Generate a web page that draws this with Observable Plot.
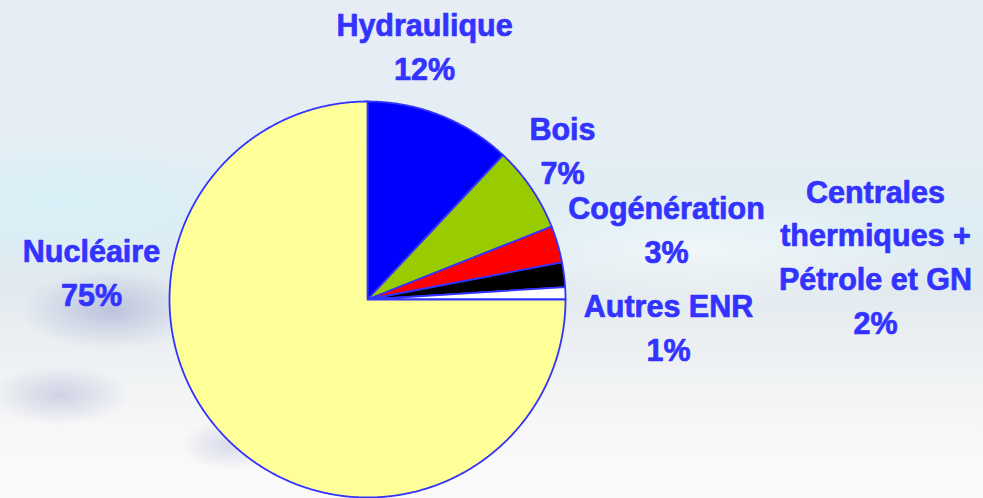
<!DOCTYPE html>
<html>
<head>
<meta charset="utf-8">
<script src="https://cdn.jsdelivr.net/npm/d3@7"></script>
<script src="https://cdn.jsdelivr.net/npm/@observablehq/plot@0.6"></script>
<style>
  html, body { margin: 0; padding: 0; width: 983px; height: 498px; overflow: hidden; }
  body {
    background:
      radial-gradient(ellipse 90px 40px at 110px 310px, rgba(100,110,180,0.32), rgba(100,110,180,0) 100%),
      radial-gradient(ellipse 70px 30px at 60px 395px, rgba(100,110,180,0.25), rgba(100,110,180,0) 100%),
      radial-gradient(ellipse 50px 25px at 230px 445px, rgba(100,110,180,0.22), rgba(100,110,180,0) 100%),
      radial-gradient(ellipse 200px 70px at 60px 200px, rgba(215,240,248,0.8), rgba(215,240,248,0) 100%),
      radial-gradient(ellipse 260px 60px at 700px 250px, rgba(255,255,255,0.55), rgba(255,255,255,0) 100%),
      linear-gradient(to bottom, #e7edf5 0%, #e5eef4 30%, #dcedf3 46%, #e2eaef 58%, #eef1f3 72%, #f8f8f8 88%, #fbfbfb 100%);
  }
  #chart svg { display: block; }
</style>
</head>
<body>
<div id="chart"></div>
<script>
// ---- data ----
const categories = ["Hydraulique", "Bois", "Cogénération", "Centrales thermiques + Pétrole et GN", "Autres ENR", "Nucléaire"];
const labelLines = ["Hydraulique", "Bois", "Cogénération", "Centrales\nthermiques +\nPétrole et GN", "Autres ENR", "Nucléaire"];
const shares = [12, 7, 3, 2, 1, 75];
const sliceColors = ["#0000ff", "#99cc00", "#ff0000", "#000000", "#ffffff", "#ffff99"];

// ---- layout ----
const W = 983, H = 498, CX = 367, CY = 299, R = 198;
// pixel anchor (center x, baseline of last line) for each label
const labelAnchors = [[424, 79], [562, 183], [666, 262], [875, 333], [668, 360], [91, 305]];

const arcs = d3.pie().sort(null).value(d => d)(shares);
const wedges = arcs.map((a, i) => {
  const pts = [[0, 0]];
  const n = Math.max(4, Math.ceil((a.endAngle - a.startAngle) / 0.005));
  for (let k = 0; k <= n; k++) {
    const t = a.startAngle + (a.endAngle - a.startAngle) * k / n;
    pts.push([Math.sin(t), Math.cos(t)]);
  }
  pts.push([0, 0]);
  return {
    type: "Feature",
    properties: {category: categories[i], color: sliceColors[i]},
    geometry: {type: "Polygon", coordinates: [pts]}
  };
});

const labelData = categories.map((c, i) => ({
  text: `${labelLines[i]}\n${shares[i]}%`,
  x: (labelAnchors[i][0] - CX) / R,
  y: -(labelAnchors[i][1] - CY) / R
}));

const chart = Plot.plot({
  width: W,
  height: H,
  margin: 0,
  projection: d3.geoIdentity().reflectY(true).scale(R).translate([CX, CY]),
  color: {type: "identity"},
  style: {background: "transparent", overflow: "visible"},
  marks: [
    Plot.geo(wedges, {
      fill: d => d.properties.color,
      stroke: "#3333ff",
      strokeWidth: 1.8,
      strokeLinejoin: "round"
    }),
    Plot.text(labelData, {
      x: "x",
      y: "y",
      text: "text",
      fill: "#3333ff",
      stroke: "#3333ff",
      strokeWidth: 0.7,
      fontSize: 30.5,
      fontWeight: "bold",
      fontFamily: "'Liberation Sans', Arial, sans-serif",
      textAnchor: "middle",
      lineAnchor: "bottom",
      lineHeight: 1.43
    })
  ]
});
document.getElementById("chart").append(chart);
</script>
</body>
</html>
